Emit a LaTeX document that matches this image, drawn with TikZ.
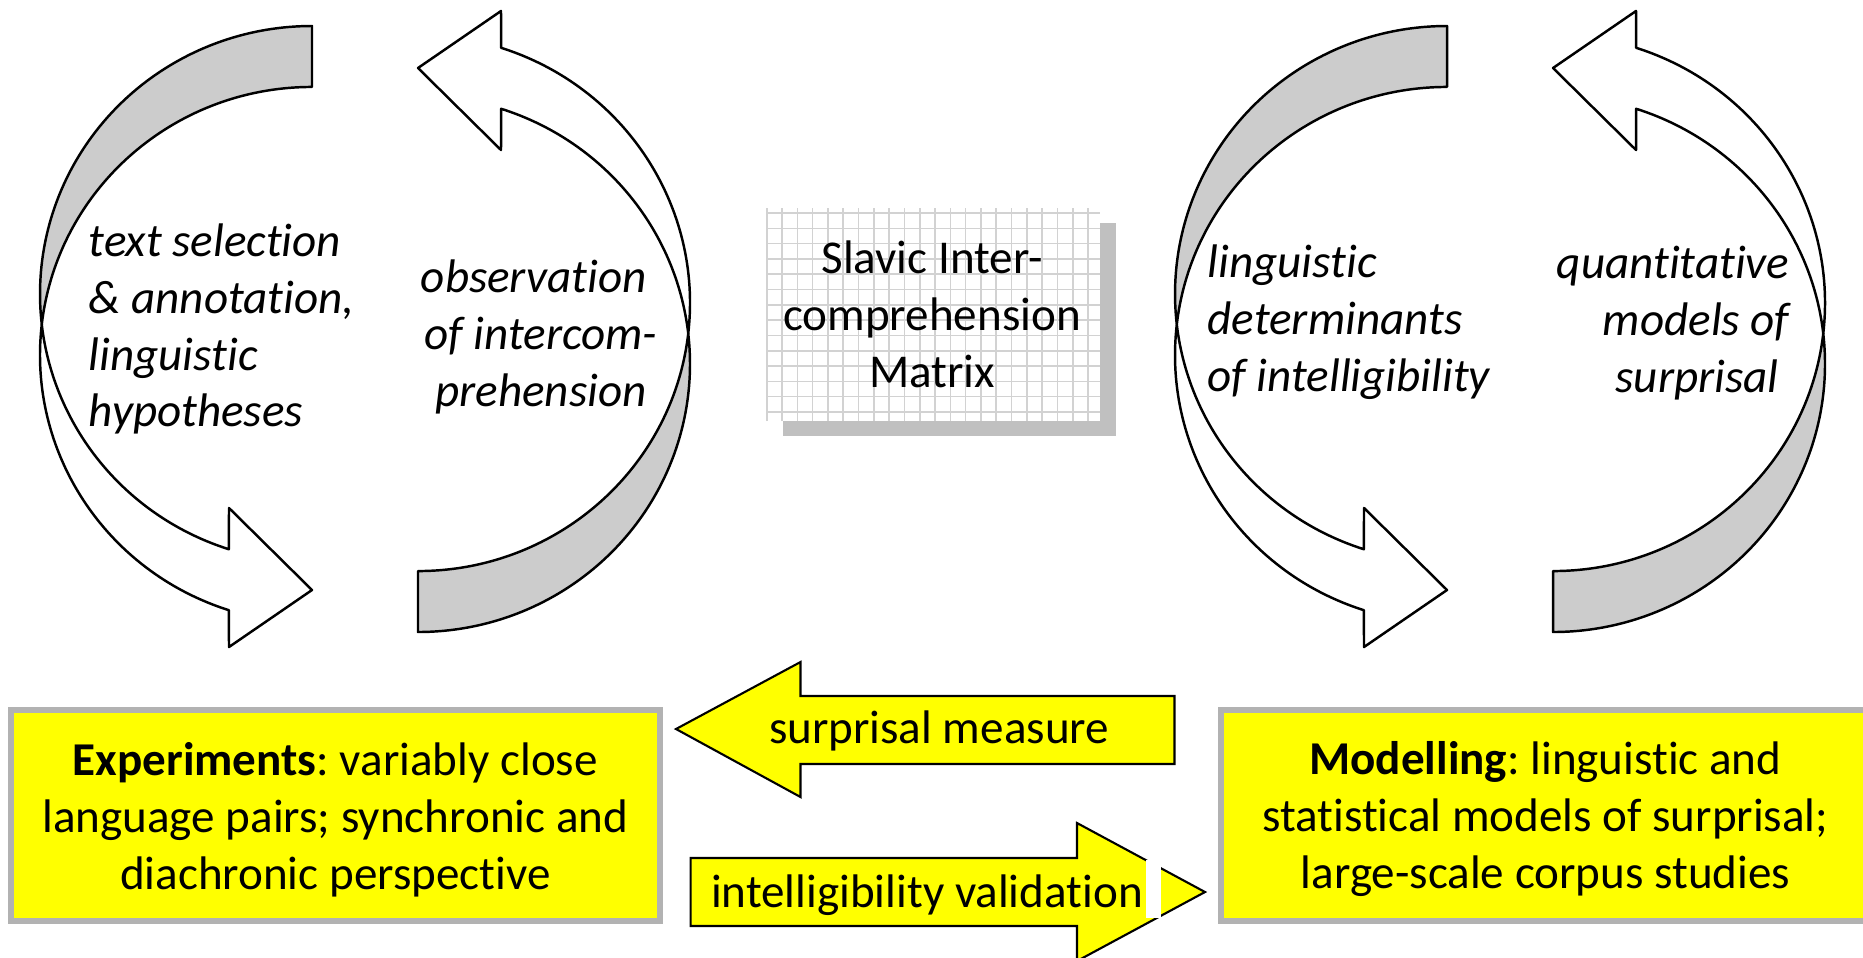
\documentclass[tikz,border=0pt]{standalone}
\usepackage{fontspec}
\setmainfont{Carlito}[Ligatures=NoCommon]
\usepackage{tikz}
\usepackage{xcolor}

\definecolor{backgrey}{HTML}{CCCCCC}
\definecolor{boxgrey}{HTML}{B2B2B2}
\definecolor{shadowgrey}{HTML}{C0C0C0}
\definecolor{gridgrey}{HTML}{D2D2D2}
\definecolor{boxyellow}{HTML}{FFFF00}

\newcommand\bodyfont{\fontsize{13.4}{16.2}\selectfont}
\newcommand\tsp{\hspace*{0.226em}}
\frenchspacing

\tikzset{
  cycleline/.style={draw=black,line width=0.7pt,line join=round},
  cyctext/.style={font=\bodyfont\itshape,inner sep=0pt},
  gridline/.style={draw=gridgrey,line width=0.45pt},
  resultbox/.style={draw=boxgrey,line width=1.7pt,fill=boxyellow,minimum width=6.49cm,
    minimum height=2.11cm,align=center,font=\bodyfont,inner sep=0pt},
  blockarrow/.style={draw=black,line width=0.6pt,fill=boxyellow,line join=miter},
  arrowtext/.style={font=\bodyfont,inner sep=0pt},
  cyclehalf/.pic={
    \draw[cycleline,fill=backgrey] (-0.53,3.03)
      arc[start angle=90,end angle=186.53,x radius=2.72,y radius=2.68]
      arc[start angle=173.47,end angle=90,x radius=2.72,y radius=2.68] -- cycle;
    \draw[cycleline,fill=white] (-1.3615,-2.2017) -- (-1.36,-1.79) -- (-0.53,-2.61)
      -- (-1.36,-3.18) -- (-1.3615,-2.8117)
      arc[start angle=252.2,end angle=173.47,x radius=2.72,y radius=2.68]
      arc[start angle=186.53,end angle=252.2,x radius=2.72,y radius=2.68] -- cycle;
  }
}

\begin{document}
\begin{tikzpicture}
\useasboundingbox (0,0) rectangle (18.63,9.57);
\clip (0,0) rectangle (18.63,9.57);

\coordinate (lcyc) at (3.65,6.28);
\coordinate (rcyc) at (15.00,6.28);
\pic at (lcyc) {cyclehalf};
\pic[rotate=180] at (lcyc) {cyclehalf};
\pic at (rcyc) {cyclehalf};
\pic[rotate=180] at (rcyc) {cyclehalf};

\node[cyctext,anchor=west,align=left] (textsel) at (0.88,6.28) {text selection\\\& annotation,\\linguistic\\hypotheses};
\node[cyctext,anchor=east,align=right] (observ) at (6.58,6.20) {observation\tsp\\of intercom-\\prehension\tsp};
\node[cyctext,anchor=west,align=left] (determ) at (12.07,6.35) {linguistic\\determinants\\of intelligibility};
\node[cyctext,anchor=east,align=right] (quantmod) at (17.90,6.34) {quantitative\\models of\\surprisal\tsp};

\fill[shadowgrey] (7.83,5.21) rectangle (11.16,7.34);
\fill[white] (7.667,5.36) rectangle (11.00,7.49);
\foreach \k in {0,...,21}
  \draw[gridline] ({7.667+0.153*\k},5.36) -- ({7.667+0.153*\k},7.49);
\foreach \k in {0,...,13}
  \draw[gridline] (7.667,{7.44-0.153*\k}) -- (11.00,{7.44-0.153*\k});
\node[font=\bodyfont,align=center,inner sep=0pt] (sicm) at (9.32,6.425) {Slavic Inter-\\comprehension\\Matrix};

\node[resultbox] (experiments) at (3.353,1.415) {\rule{0pt}{11.6pt}\textbf{Experiments}: variably close\\language pairs; synchronic and\\diachronic perspective};
\node[resultbox] (modelling) at (15.455,1.415) {\rule{0pt}{11.6pt}\textbf{Modelling}: linguistic and\\statistical models of surprisal;\\large-scale corpus studies};

\draw[blockarrow] (6.76,2.28) -- (8.005,2.95) -- (8.005,2.61) -- (11.745,2.61)
  -- (11.745,1.93) -- (8.005,1.93) -- (8.005,1.60) -- cycle;
\node[arrowtext] (measure) at (9.39,2.265) {surprisal measure};

\draw[blockarrow] (6.906,0.99) -- (10.77,0.99) -- (10.77,1.34) -- (12.05,0.65)
  -- (10.77,-0.04) -- (10.77,0.31) -- (6.906,0.31) -- cycle;
\fill[white] (11.46,0.39) rectangle (11.606,0.97);
\node[arrowtext] (validation) at (9.27,0.615) {intelligibility validation};
\end{tikzpicture}
\end{document}
